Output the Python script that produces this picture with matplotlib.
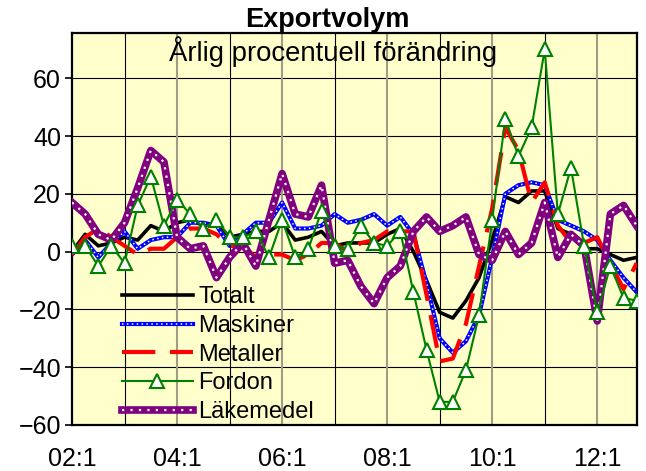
import matplotlib
matplotlib.use("Agg")
import matplotlib.pyplot as plt
import numpy as np

plt.rcParams['font.family'] = ['Liberation Sans', 'DejaVu Sans']

# kvartal 2002:1 - 2012:4
quarters = [f"{y:02d}:{q}" for y in range(2, 13) for q in range(1, 5)]
tick_labels = ['02:1', '04:1', '06:1', '08:1', '10:1', '12:1']

totalt = [0, 6, 2, 3, 5, 4, 9, 7, 10, 11, 9, 10, 5, 6, 7, 7, 10, 4, 5, 7, 2, 3, 3, 3,
          6, 8, 0, -10, -21, -23, -17, -9, 4, 19, 17, 21, 21, 8, 6, 1, 1, -1, -3, -2]
maskiner = [-1, 4, -2, 3, 7, 1, 4, 5, 5, 10, 10, 9, 2, 6, 10, 10, 17, 8, 8, 9, 13, 10, 11, 13,
            9, 12, 6, -11, -30, -35, -31, -22, -2, 20, 23, 24, 23, 11, 9, 7, 4, -3, -9, -14]
metaller = [-1, 5, 8, 5, 2, -1, 1, 1, 5, 8, 8, 6, 2, 2, -2, -1, -1, -3, -1, 3, 3, 0, 3, 4,
            7, 7, 7, -15, -38, -37, -25, -5, 15, 43, 35, 17, 24, 9, 3, 3, 5, -4, -13, -4]
fordon = [2, 2, -5, 2, -4, 16, 26, 9, 18, 13, 8, 11, 5, 5, 7, -2, 11, -2, 1, 14, 2, 1, 9, 3,
          2, 7, -14, -34, -52, -52, -41, -22, 11, 46, 33, 43, 70, 13, 29, 2, -21, -5, -16, -17]
lakemedel = [17, 13, 6, 4, 10, 22, 35, 31, 5, 1, 2, -9, -2, 3, -5, 11, 27, 13, 12, 23, -4, -3, -12, -18,
             -9, -5, 7, 12, 7, 9, 12, -1, -3, 7, -1, 3, 17, -2, 6, 2, -24, 13, 16, 9]

x = np.arange(len(quarters))

fig = plt.figure(figsize=(6.46, 4.71), dpi=100)
ax = fig.add_axes([0.1115, 0.0977, 0.874, 0.8312])
ax.set_facecolor('#FFFFCC')

# rutnat
for yv in range(-40, 80, 20):
    ax.axhline(yv, color='black', lw=0.8, zorder=1)
for i in range(4, len(x), 8):
    ax.axvline(i, color='black', lw=0.8, zorder=1)
for i in range(8, len(x), 8):
    ax.axvline(i, color='#a09c86', lw=1.5, zorder=1)

l_tot, = ax.plot(x, totalt, color='black', lw=2.6, zorder=3)
l_mask, = ax.plot(x, maskiner, color='#0000FF', lw=3.0, zorder=3)
l_mask2, = ax.plot(x, maskiner, color='white', lw=1.1, ls=(0, (1, 2.2)), zorder=3)
l_met, = ax.plot(x, metaller, color='#FF0000', lw=3.0, ls=(0, (8, 3.5)), zorder=3)
l_lak, = ax.plot(x, lakemedel, color='#800080', lw=5.5, zorder=4)
l_lak2, = ax.plot(x, lakemedel, color='white', lw=1.6, ls=(0, (1, 2.8)), zorder=4)
l_ford, = ax.plot(x, fordon, color='#008000', lw=1.5, marker='^', ms=10,
                  mfc='white', mec='#008000', mew=1.5, zorder=5)

ax.set_xlim(0, len(x) - 1)
ax.set_ylim(-60, 75.5)
ax.set_yticks(range(-60, 61, 20))
ax.set_xticks([quarters.index(t) for t in tick_labels])
ax.set_xticklabels(tick_labels)
ax.tick_params(axis='x', length=0, pad=16, labelsize=18)
ax.tick_params(axis='y', length=5, width=1.2, pad=3, labelsize=18, direction='out')
for s in ax.spines.values():
    s.set_linewidth(1.6)
    s.set_color('black')

ax.set_title('Exportvolym', fontsize=19.5, fontweight='bold', pad=1, x=0.453)
ax.text(0.463, 0.931, 'Årlig procentuell förändring', transform=ax.transAxes,
        ha='center', va='baseline', fontsize=19.8, zorder=6)

ax.legend([l_tot, (l_mask, l_mask2), l_met, l_ford, (l_lak, l_lak2)],
          ['Totalt', 'Maskiner', 'Metaller', 'Fordon', 'Läkemedel'],
          loc='upper left', bbox_to_anchor=(0.088, 0.354), frameon=False,
          fontsize=17, handlelength=3.0, handletextpad=0.25, labelspacing=0.28,
          borderpad=0, borderaxespad=0)

fig.savefig('out.png', dpi=100)
